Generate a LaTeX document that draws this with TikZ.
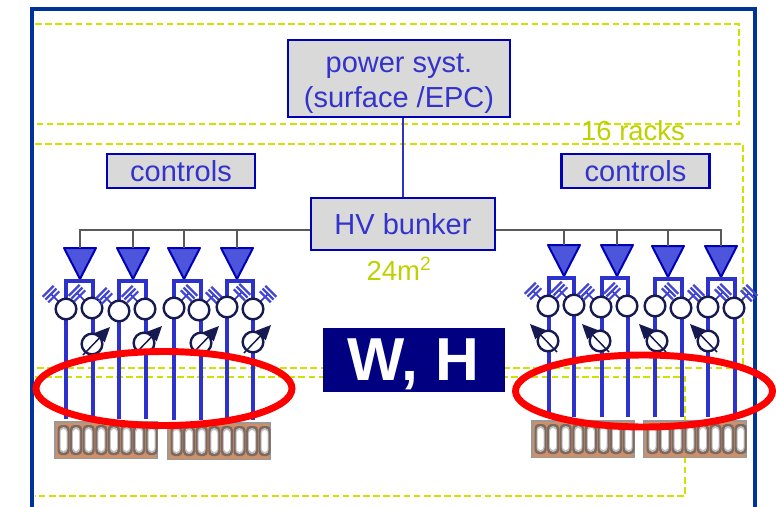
\documentclass[tikz,border=0pt]{standalone}
\usepackage{fontspec}
\setmainfont{Liberation Sans}
\usetikzlibrary{arrows.meta,calc}
\definecolor{txtblue}{RGB}{51,51,204}
\definecolor{frameblue}{RGB}{0,51,153}
\definecolor{wireblue}{RGB}{45,50,205}
\definecolor{ampfill}{RGB}{77,85,220}
\definecolor{ampline}{RGB}{0,0,180}
\definecolor{dashyel}{RGB}{208,226,0}
\definecolor{boxgray}{RGB}{217,217,217}
\definecolor{navybox}{RGB}{0,0,128}
\definecolor{ringcol}{RGB}{22,26,80}
\definecolor{brick}{RGB}{205,145,105}
\definecolor{brickdk}{RGB}{125,105,95}
\tikzset{
  x=0.75pt,y=-0.75pt,
  lab/.style={text=txtblue,font=\fontsize{21.75}{26.2}\selectfont,align=center},
  graybox/.style={draw=ampline,line width=1.6pt,fill=boxgray,inner sep=0pt,lab},
  yel/.style={draw=dashyel,line width=2.2pt,dash pattern=on 5pt off 2.6pt},
  yeltext/.style={text=dashyel!92!black,font=\fontsize{20.6}{24}\selectfont,inner sep=0pt},
  wire/.style={draw=wireblue,line width=2.8pt},
  busline/.style={draw=black!65,line width=1pt},
  ring/.style={circle,draw=ringcol,fill=white,line width=1.8pt,minimum size=15.5pt,inner sep=0pt},
  redring/.style={draw=red,line width=5.2pt},
  hatchline/.style={draw=wireblue!90!white,line width=1.7pt},
  ctlarrow/.style={draw=ringcol,line width=1.1pt,-{Stealth[length=11pt,width=10pt,inset=0pt]}},
}
\newcommand{\myamp}[3]{% x, top y, name
  \coordinate (#3t) at (#1,#2);
  \coordinate (#3b) at (#1,#2+31);
  \draw[fill=ampfill,draw=ampline,line width=1.5pt,line join=round]
    (#1-16,#2) -- (#1+16,#2) -- (#3b) -- cycle;
}
\newcommand{\myhatch}[2]{% ring name, side sign
  \coordinate (H) at ($(#1)+(#2*15,-15)$);
  \draw[draw=wireblue,line width=1.2pt] (#1) -- (H);
  \foreach \t in {-2.8,0,2.8}
    \draw[hatchline] ($(H)+(#2*\t,-\t)+(-#2*5.5,-5.5)$) -- ($(H)+(#2*\t,-\t)+(#2*5.5,5.5)$);
}
\newcommand{\mybrick}[3]{% left, top, name
  \node[draw=black!40,line width=1.2pt,fill=brick,minimum width=76.5pt,minimum height=27.5pt,inner sep=0pt,anchor=north west] (#3) at (#1,#2) {};
  \foreach \k in {0,...,7}{
    \fill[brickdk,rounded corners=3pt] (#1+3.5+\k*12.6,#2+4) rectangle (#1+15.5+\k*12.6,#2+34);
    \fill[black!25,rounded corners=3pt] (#1+5.5+\k*12.6,#2+6) rectangle (#1+13.5+\k*12.6,#2+32);
    \fill[white,rounded corners=2.5pt] (#1+6.5+\k*12.6,#2+8) rectangle (#1+12.5+\k*12.6,#2+30);
  }
}
\begin{document}
\begin{tikzpicture}
\useasboundingbox (0,0) rectangle (776,507);
% dashed enclosures
\draw[yel] (35,24) -- (739,24) -- (739,124) -- (35,124);
\draw[yel] (35,144) -- (743,144) -- (743,368) -- (35,368);
\draw[yel] (35,377) -- (685,377) -- (685,496) -- (35,496);
% frame
\draw[draw=frameblue,line width=3pt] (32,515) -- (32,9) -- (755,9) -- (755,515);
% boxes
\node[graybox,minimum width=167pt,minimum height=57.5pt] (power) at (399,78.5) {\rule{0pt}{22pt}power syst.\\(surface /EPC)};
\node[graybox,minimum width=111pt,minimum height=25.5pt] (ctlL) at (181,171) {\raisebox{-1pt}{controls}};
\node[graybox,minimum width=111pt,minimum height=25.5pt] (ctlR) at (635.5,171) {controls};
\node[graybox,minimum width=138pt,minimum height=38.5pt] (hv) at (403,224) {\raisebox{-1.5pt}{HV bunker}};
\draw[wire,line width=1.6pt] (power.south -| hv.north) -- (hv.north);
\node[yeltext] (racks) at (633,131) {16 racks};
\node[yeltext] (area) at (399,269) {24m\textsuperscript{2}};
\node[fill=navybox,text=white,minimum width=136.5pt,minimum height=48pt,inner sep=0pt] (wh) at (414,360) {};
\node[text=white,inner sep=0pt,font=\fontsize{45.5}{46}\selectfont\bfseries] (whtext) at (413.5,364) {W, H};
% bricks
\mybrick{54}{421}{b1}\mybrick{167}{422}{b2}\mybrick{531}{420}{b3}\mybrick{643}{420}{b4}
% bus
\coordinate (busy) at (0,230);
\myamp{80}{248}{aa}\myamp{133}{248}{ab}\myamp{184}{248}{ac}\myamp{237}{248}{ad}
\myamp{564}{245}{ae}\myamp{617}{245}{af}\myamp{668}{246}{ag}\myamp{721}{246}{ah}
\draw[busline] (hv.west |- busy) -- (aat |- busy) -- (aat);
\foreach \n in {abt,act,adt} \draw[busline] (\n |- busy) -- (\n);
\draw[busline] (hv.east |- busy) -- (aht |- busy) -- (aht);
\foreach \n in {aet,aft,agt} \draw[busline] (\n |- busy) -- (\n);
% wires, brackets
\foreach \n/\xa/\xb/\yt/\yb in {1/66/93/281/419,2/119/146/281/419,3/174/201/281/420,4/227/253/281/420,5/549/574/278/417,6/602/628/278/417,7/655/682/279/417,8/708/735/279/417}{
  \coordinate (l\n) at (\xa,\yb);
  \coordinate (r\n) at (\xb,\yb);
  \draw[wire] (l\n) -- (\xa,\yt) -- (\xb,\yt) -- (r\n);
}
% rings and hatched elements
\foreach \n/\x/\y/\sgn in {c1/66/309/-1,c2/92/308/-1,c3/119/311/-1,c4/145/309/-1,c5/174/308/1,c6/199/310/1,c7/227/307/1,c8/253/309/1,
  c9/548/306/-1,c10/574/305/-1,c11/601/307/-1,c12/627/306/-1,c13/655/306/1,c14/681/308/1,c15/708/307/1,c16/734/308/1}{
  \coordinate (\n) at (\x,\y);
  \myhatch{\n}{\sgn}
  \node[ring] (\n) at (\x,\y) {};
}
% adjustable elements
\foreach \n/\x/\y/\sgn in {d1/92/344/1,d2/144/343/1,d3/201/343/1,d4/253/342/1,d5/548/341/-1,d6/600/341/-1,d7/657/341/-1,d8/708/341/-1}{
  \node[ring] (\n) at (\x,\y) {};
  \draw[ctlarrow] ($(\n)+(-\sgn*9,11)$) -- ($(\n)+(\sgn*18,-17)$);
}
% red ellipses
\draw[redring] (164,388.5) ellipse [x radius=128,y radius=37];
\draw[redring] (644,391) ellipse [x radius=128.5,y radius=36];
\end{tikzpicture}
\end{document}
